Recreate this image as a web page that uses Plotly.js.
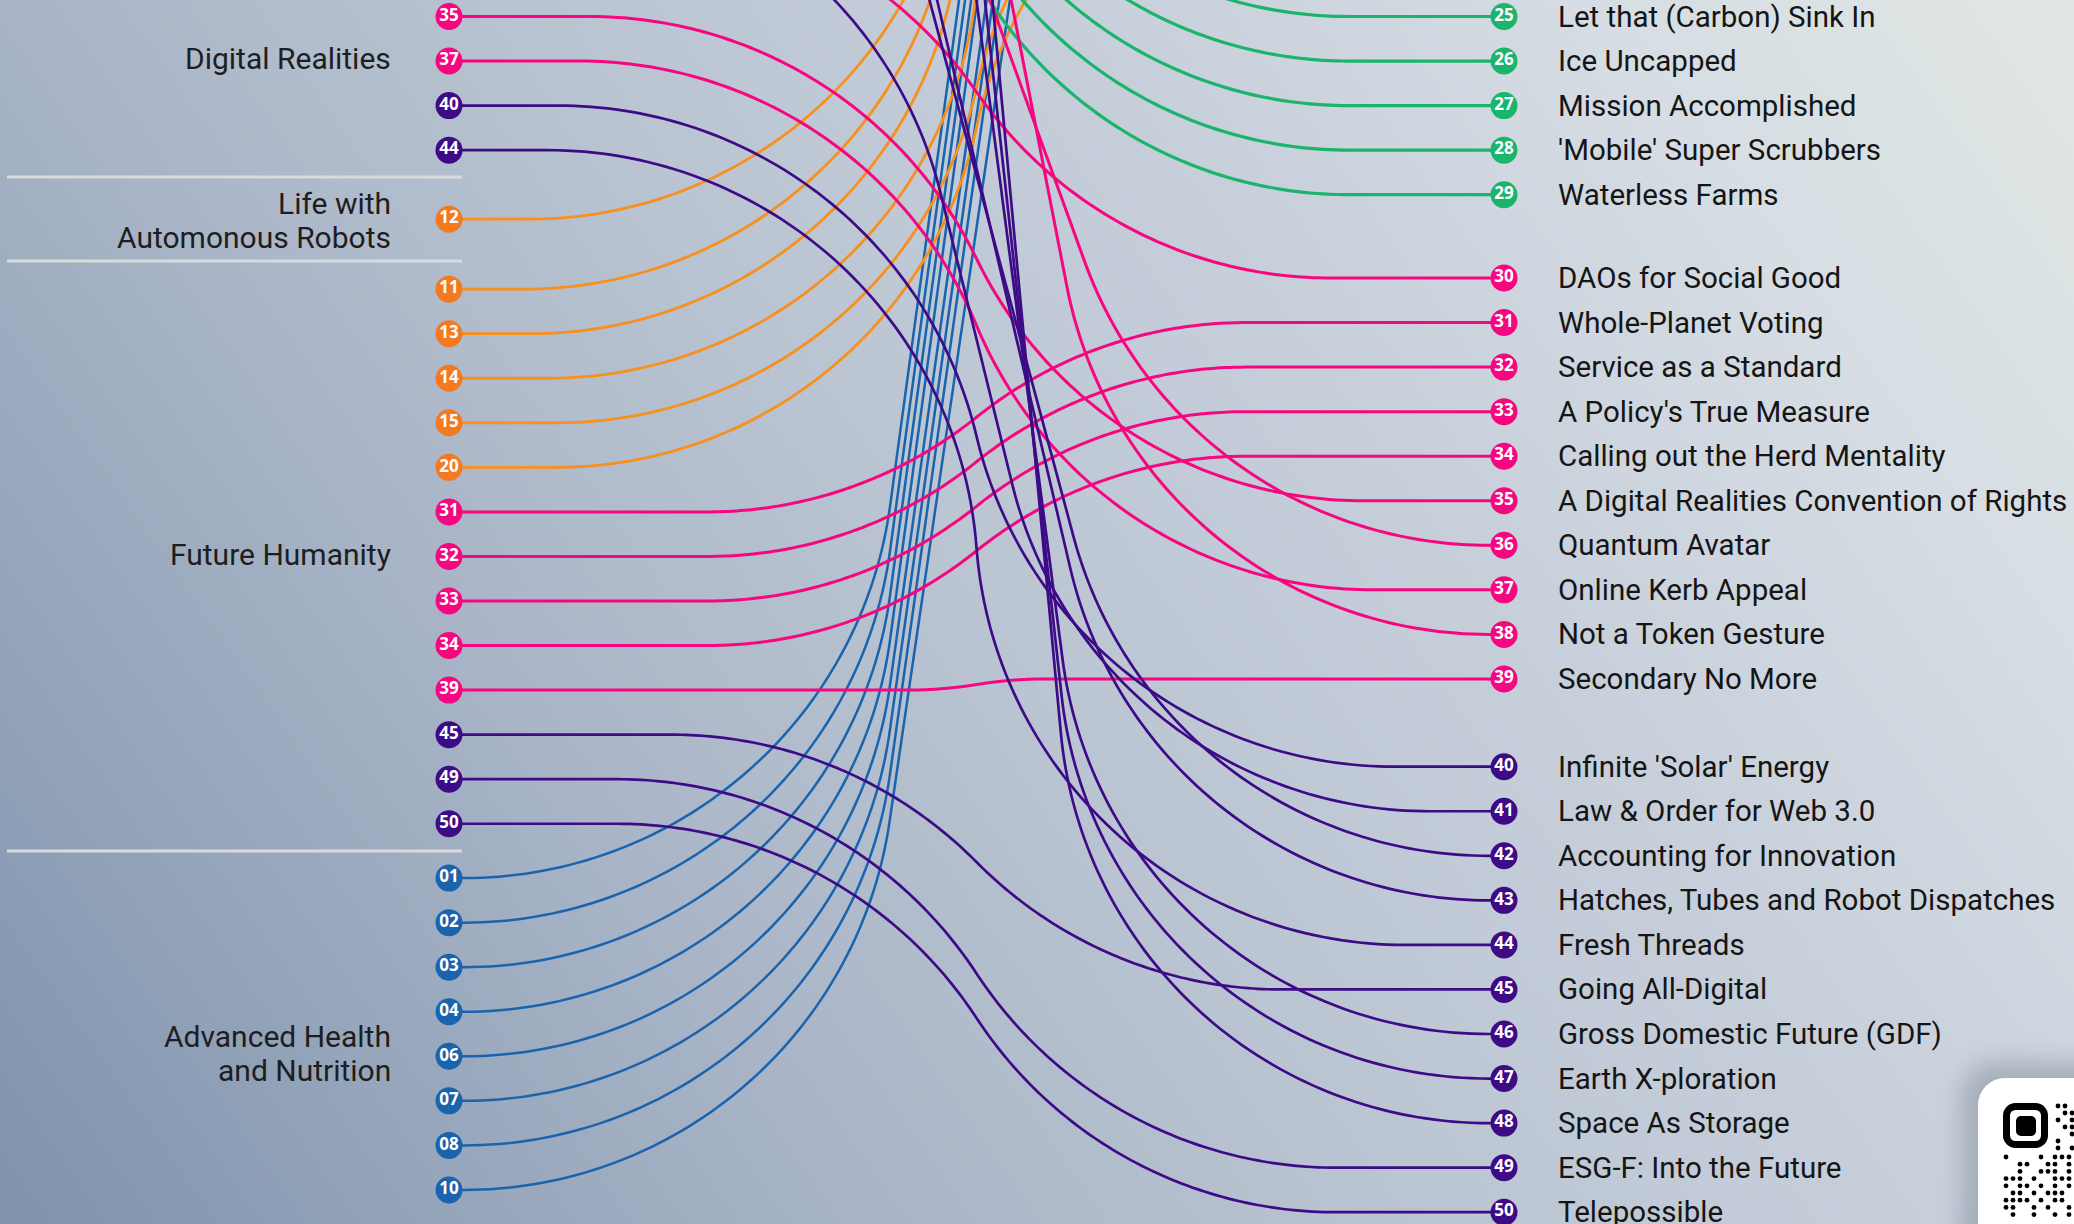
<!DOCTYPE html>
<html>
<head>
<meta charset="utf-8">
<script src="https://cdn.plot.ly/plotly-3.0.1.min.js"></script>
<style>
html,body{margin:0;padding:0;width:2074px;height:1224px;overflow:hidden;}
body{background:linear-gradient(55deg,#7f93ae 0%,#94a4ba 15%,#a9b5c7 30%,#bcc6d3 50%,#c6ceda 65%,#d7dee4 85%,#e0e7e2 100%);}
#chart{width:2074px;height:1224px;}
</style>
</head>
<body>
<div id="chart"></div>
<script>
// ---------------- DATA ----------------
const leftNodeIds  = ['35','37','40','44','12','11','13','14','15','20','31','32','33','34','39','45','49','50','01','02','03','04','06','07','08','10'];
const leftNodeRows = [0,1,2,3,4.55,6.12,7.12,8.12,9.12,10.12,11.12,12.12,13.12,14.12,15.12,16.12,17.12,18.12,19.34,20.34,21.34,22.34,23.34,24.34,25.34,26.34];

const rightNodeIds  = ['25','26','27','28','29','30','31','32','33','34','35','36','37','38','39','40','41','42','43','44','45','46','47','48','49','50'];
const rightNodeRows = [0,1,2,3,4,5.87,6.87,7.87,8.87,9.87,10.87,11.87,12.87,13.87,14.87,16.84,17.84,18.84,19.84,20.84,21.84,22.84,23.84,24.84,25.84,26.84];
const rightTitles = [
  'Let that (Carbon) Sink In','Ice Uncapped','Mission Accomplished',"'Mobile' Super Scrubbers",'Waterless Farms',
  'DAOs for Social Good','Whole-Planet Voting','Service as a Standard',"A Policy's True Measure",'Calling out the Herd Mentality',
  'A Digital Realities Convention of Rights','Quantum Avatar','Online Kerb Appeal','Not a Token Gesture','Secondary No More',
  "Infinite 'Solar' Energy",'Law &amp; Order for Web 3.0','Accounting for Innovation','Hatches, Tubes and Robot Dispatches','Fresh Threads',
  'Going All-Digital','Gross Domestic Future (GDF)','Earth X-ploration','Space As Storage','ESG-F: Into the Future','Telepossible'
];

// link ends lying above the visible frame (estimated rows)
const offLeftIds  = ['25','26','27','28','29','30','36','38','41','42','43','46','47','48'];
const offLeftRows = [-9.64,-8.65,-7.64,-6.65,-5.65,-2.48,-14.29,-22.6,-3.36,-11.71,-13.03,-23.56,-28.0,-33.2];
const offRightIds  = ['01','02','03','04','06','07','08','10','11','12','13','14','15','20'];
const offRightRows = [-25.84,-24.84,-23.84,-22.84,-20.84,-19.84,-18.84,-16.84,-15.03,-16.2,-13.46,-9.4,-5.92,-5.15];

const groupNames       = ['Digital Realities','Life with<br>Automonous Robots','Future Humanity','Advanced Health<br>and Nutrition'];
const groupLabelRows   = [0.95, 4.57, 12.07, 23.28];
const groupDividerRows = [3.60, 5.49, 18.73];

// --------------- STYLE / GEOMETRY ---------------
const W = 2074, Hh = 1224;
const ROW_PX = 44.55, ROW0_PX = 16.5;
const XL = 449, XR = 1504;
const RAD = 430, FMIN = 15, KF = 0.55;
const LABEL_LINE_ROWS = 0.76;
const COLORS = {blue:'#1a63ad', orange:'#f7901e', orangeNode:'#f37a21', green:'#1ab46c', pink:'#f8067f', purple:'#3e0b87'};
function catOf(id){const n=+id; if(n<=10)return 'blue'; if(n<=20)return 'orange'; if(n<=29)return 'green'; if(n<=39)return 'pink'; return 'purple';}
function lineColor(id){return COLORS[catOf(id)];}
function nodeColor(id){const c=catOf(id); return c==='orange'?COLORS.orangeNode:COLORS[c];}
function lineWidth(id){return {blue:2.5,orange:2.8,green:3.2,pink:3,purple:2.7}[catOf(id)];}
const rowToPx = r => ROW0_PX + r*ROW_PX;
const pxToRow = p => (p - ROW0_PX)/ROW_PX;

function linkPoints(r0, r1){
  const x0=XL, x1=XR, y0=rowToPx(r0), y1=rowToPx(r1);
  const dy=y1-y0;
  if(Math.abs(dy)<1) return {x:[x0,x1],y:[r0,r1]};
  const s=dy>0?1:-1, H=Math.abs(dy)/2, Mx=(x0+x1)/2, My=(y0+y1)/2;
  let xa, th;
  if(H<=RAD){ th=Math.acos(1-H/RAD); xa=Mx-RAD*Math.sin(th); }
  else{
    xa=Math.max(x0+FMIN, Mx-RAD-(H-RAD)*KF);
    const A=Mx-xa, B=RAD-H, rr=Math.hypot(A,B), phi=Math.atan2(B,A);
    th=Math.asin(Math.min(1,RAD/rr))-phi;
  }
  const xs=[x0], ys=[y0], N=70;
  for(let i=0;i<=N;i++){const a=th*i/N; xs.push(xa+RAD*Math.sin(a)); ys.push(y0+s*RAD*(1-Math.cos(a)));}
  for(let i=N;i>=0;i--){const a=th*i/N; xs.push(2*Mx-(xa+RAD*Math.sin(a))); ys.push(2*My-(y0+s*RAD*(1-Math.cos(a))));}
  xs.push(x1); ys.push(y1);
  return {x:xs, y:ys.map(pxToRow)};
}

// --------------- TRACES ---------------
const leftRowOf = {}, rightRowOf = {};
leftNodeIds.forEach((id,i)=>leftRowOf[id]=leftNodeRows[i]);
offLeftIds.forEach((id,i)=>leftRowOf[id]=offLeftRows[i]);
rightNodeIds.forEach((id,i)=>rightRowOf[id]=rightNodeRows[i]);
offRightIds.forEach((id,i)=>rightRowOf[id]=offRightRows[i]);

const traces=[];
Object.keys(leftRowOf).sort((a,b)=>(+a)-(+b)).forEach(id=>{
  if(rightRowOf[id]===undefined) return;
  const p=linkPoints(leftRowOf[id], rightRowOf[id]);
  traces.push({type:'scatter',mode:'lines',x:p.x,y:p.y,hoverinfo:'skip',
    line:{color:lineColor(id),width:lineWidth(id),simplify:false}});
});

const nodeFont={family:'Noto Sans, Open Sans, sans-serif',size:17,color:'#ffffff',weight:700};
traces.push({type:'scatter',mode:'markers+text',x:leftNodeIds.map(()=>XL),y:leftNodeRows,
  text:leftNodeIds,textposition:'middle center',textfont:nodeFont,hoverinfo:'skip',
  marker:{size:27,color:leftNodeIds.map(nodeColor),line:{width:0}}});
traces.push({type:'scatter',mode:'markers+text',x:rightNodeIds.map(()=>XR),y:rightNodeRows,
  text:rightNodeIds,textposition:'middle center',textfont:nodeFont,hoverinfo:'skip',
  marker:{size:27,color:rightNodeIds.map(nodeColor),line:{width:0}}});

const labelFont={family:'Roboto, Liberation Sans, sans-serif',size:29.5,color:'#151515'};
const annotations=[];
rightTitles.forEach((t,i)=>annotations.push({x:1556,y:rightNodeRows[i],xref:'x',yref:'y',text:t,showarrow:false,
  xanchor:'left',yanchor:'middle',font:labelFont}));
groupNames.forEach((t,i)=>{
  const lines=t.split('<br>');
  lines.forEach((ln,k)=>annotations.push({x:393,y:groupLabelRows[i]+(k-(lines.length-1)/2)*LABEL_LINE_ROWS,
    xref:'x',yref:'y',text:ln,showarrow:false,xanchor:'right',yanchor:'middle',align:'right',
    font:{family:labelFont.family,size:30,color:'#1e1e1e'}}));
});

const shapes=groupDividerRows.map(r=>({type:'line',xref:'x',yref:'y',x0:7,x1:462,y0:r,y1:r,line:{color:'#d9dadb',width:3}}));

// QR badge (decorative)
const qrRight = ['0110','0011','0101','0011','0001','0100','0101'];
const qrBelow = ['1000010111','0011001101','0010011101','1110100111','1011010101','0110101110','1111010110','1100101001','0100100101'];
let svg="<svg xmlns='http://www.w3.org/2000/svg' width='200' height='250' viewBox='0 0 200 250'>"+
 "<defs><filter id='b' x='-50%' y='-50%' width='200%' height='200%'><feGaussianBlur stdDeviation='12'/></filter></defs>"+
 "<rect x='62' y='62' width='170' height='220' rx='34' fill='#5d6779' opacity='0.35' filter='url(#b)'/>"+
 "<rect x='78' y='78' width='160' height='200' rx='27' fill='#ffffff'/>"+
 "<rect x='106.5' y='106.5' width='38' height='38' rx='9' fill='none' stroke='#000' stroke-width='7'/>"+
 "<rect x='116' y='116' width='20' height='20' rx='5' fill='#000'/>";
qrRight.forEach((row,r)=>{for(let c=0;c<row.length;c++) if(row[c]==='1') svg+="<circle cx='"+(151+7*c)+"' cy='"+(106+7*r)+"' r='2.4' fill='#000'/>";});
qrBelow.forEach((row,r)=>{for(let c=0;c<row.length;c++) if(row[c]==='1') svg+="<circle cx='"+(106+7*c)+"' cy='"+(157+7.2*r)+"' r='2.4' fill='#000'/>";});
svg+="</svg>";
const images=[{source:'data:image/svg+xml;charset=utf-8,'+encodeURIComponent(svg),xref:'paper',yref:'paper',
  x:1900/W,y:1-1000/Hh,sizex:200/W,sizey:250/Hh,xanchor:'left',yanchor:'top',sizing:'stretch',layer:'above'}];

const layout={width:W,height:Hh,margin:{l:0,r:0,t:0,b:0},paper_bgcolor:'rgba(0,0,0,0)',plot_bgcolor:'rgba(0,0,0,0)',
  showlegend:false,
  xaxis:{range:[0,W],visible:false,fixedrange:true},
  yaxis:{range:[pxToRow(Hh),pxToRow(0)],visible:false,fixedrange:true},
  annotations:annotations,shapes:shapes,images:images};
Plotly.newPlot('chart',traces,layout,{displayModeBar:false,staticPlot:true});
</script>
</body>
</html>
